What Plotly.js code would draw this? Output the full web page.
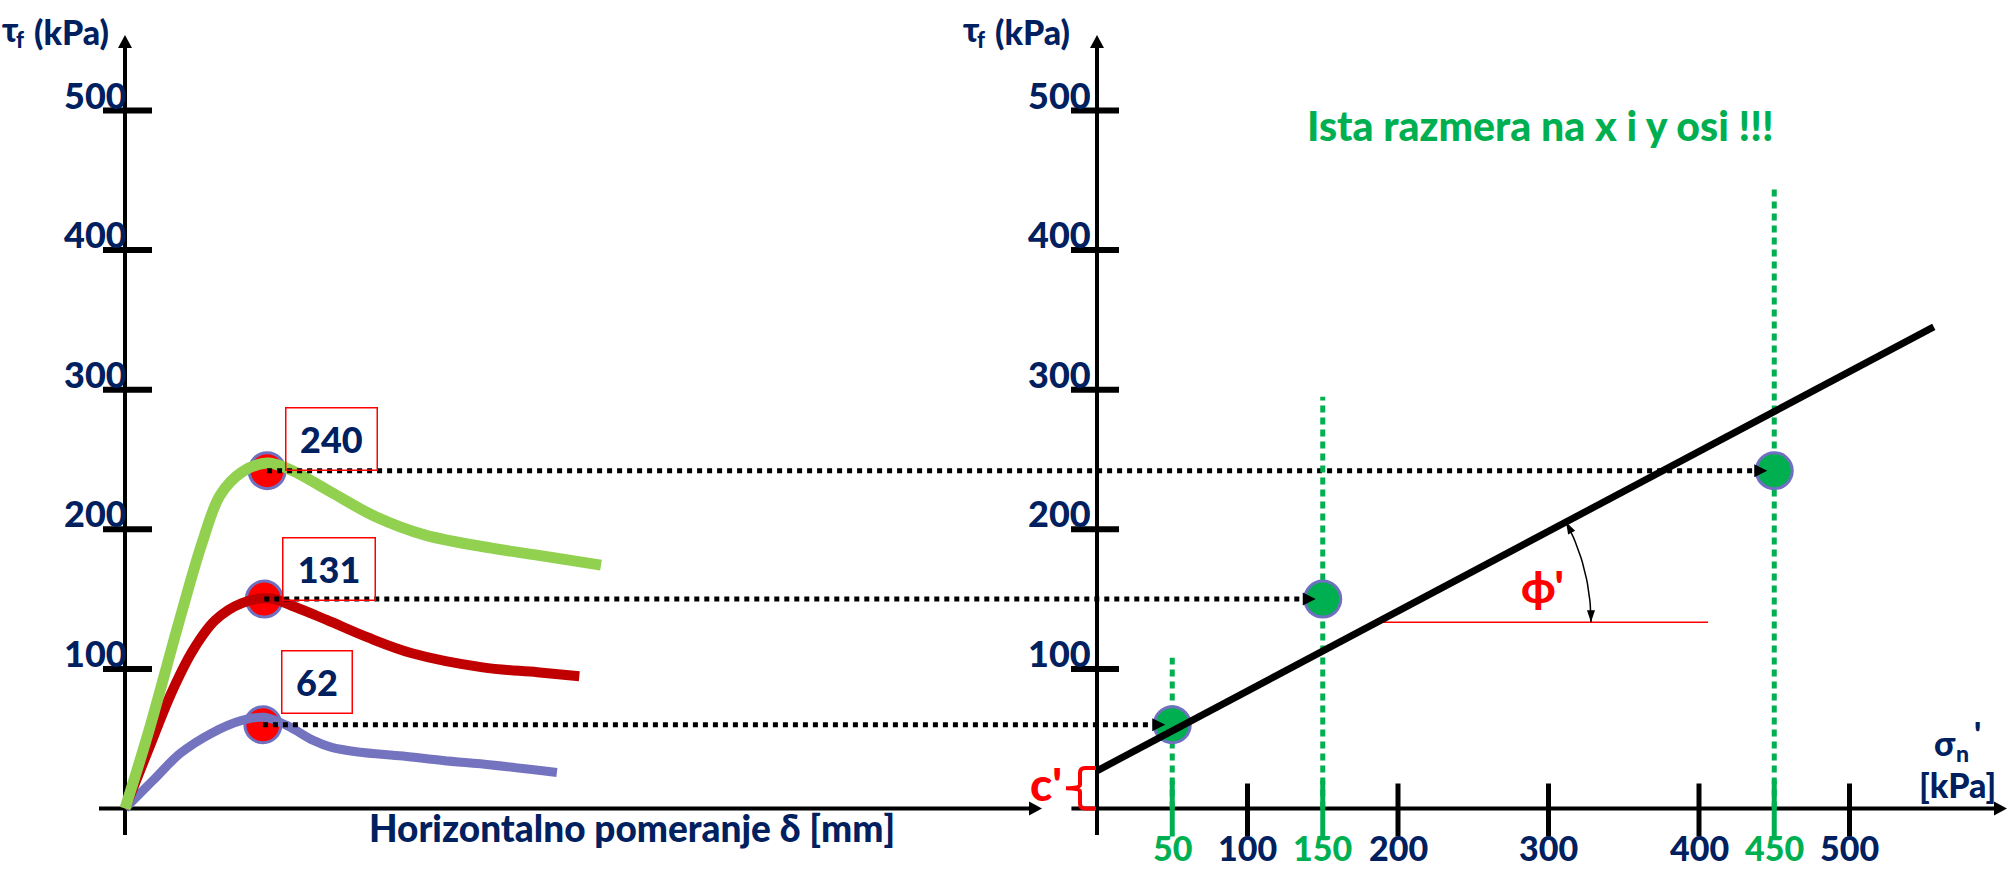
<!DOCTYPE html>
<html><head><meta charset="utf-8">
<script src="https://cdn.plot.ly/plotly-3.0.1.min.js"></script>
<style>html,body{margin:0;padding:0;background:#fff;overflow:hidden}#chart{width:2007px;height:872px}</style>
</head><body><div id="chart"></div>
<script>
// ---------------- data ----------------
// Left panel: shear stress vs horizontal displacement (three tests)
const deltaBlue  = [0, 0.40, 0.79, 1.23, 1.67, 1.99, 2.31, 2.69, 2.94, 3.33, 3.97, 4.54, 5.24, 6.17];
const tauBlue    = [0, 20.1, 39.5, 53.8, 63.1, 65.3, 59.5, 48.8, 44.0, 40.5, 37.6, 34.4, 31.2, 25.8];
const deltaRed   = [0, 0.33, 0.66, 0.97, 1.29, 1.67, 2.06, 2.44, 2.89, 3.46, 4.10, 5.11, 5.89, 6.49];
const tauRed     = [0, 41.6, 82.5, 113.3, 134.9, 147.1, 150.6, 144.2, 134.9, 122.7, 111.2, 101.1, 97.6, 94.7];
const deltaGreen = [0, 0.33, 0.79, 1.10, 1.36, 1.67, 2.03, 2.37, 2.94, 3.59, 4.29, 5.24, 5.89, 6.80];
const tauGreen   = [0, 53.8, 137, 190, 224.5, 241, 247.5, 242.5, 226.7, 208.8, 195.8, 186.5, 181.5, 174.3];

// Peaks (order: 240, 131, 62)
const peakDelta  = [2.03, 1.99, 1.97];
const peakTau    = [242, 150, 60];
const peakLabels = ['240', '131', '62'];
const sigmaTested = [450, 150, 50];
const guideTop    = [445, 295, 108];

// Right panel: failure envelope
const envSigma = [0, 556];
const envTau   = [27, 345];
const phiRefTau = 133.4;
const phiRefEnd = 406;

// Ticks
const tauTicks = [100, 200, 300, 400, 500];
const sigmaTicks = [50, 100, 150, 200, 300, 400, 450, 500];
const sigmaTickLabels = ['50', '100', '150', '200', '300', '400', '450', '500'];

// ---------------- layout constants ----------------
const W = 2007, H = 872;
const LX0 = 125, LSX = 70;      // left x: origin px, px per mm
const RX0 = 1097, RSX = 1.505;  // right x: origin px, px per kPa
const Y0 = 808.5, SY = 1.396;   // y: origin px, px per kPa
const NAVY = '#002060', GTXT = '#00B050', RED = '#FF0000', PURP = '#7070C0';
const FONT = 'Lato, "Noto Sans", "DejaVu Sans", sans-serif';
const F = (size, color) => ({family: FONT, size: size, color: color || NAVY, weight: 900});
const toX2 = mm => (LX0 + mm * LSX - RX0) / RSX;

const traces = [];
for (let i = 0; i < 3; i++) {
  traces.push({x: [toX2(peakDelta[i]), sigmaTested[i]], y: [peakTau[i], peakTau[i]], xaxis: 'x2', yaxis: 'y',
    mode: 'lines', line: {color: '#000', width: 5, dash: '5px,5px'}, hoverinfo: 'skip'});
}
for (let i = 0; i < 3; i++) {
  traces.push({x: [sigmaTested[i], sigmaTested[i]], y: [0, guideTop[i]], xaxis: 'x2', yaxis: 'y',
    mode: 'lines', line: {color: '#00B050', width: 5, dash: '7px,5px'}, hoverinfo: 'skip'});
}
traces.push({x: peakDelta, y: peakTau, xaxis: 'x', yaxis: 'y', mode: 'markers',
  marker: {size: 36, color: RED, line: {color: PURP, width: 3}}, hoverinfo: 'skip'});
traces.push({x: deltaBlue, y: tauBlue, mode: 'lines', line: {color: '#7373BF', width: 9, shape: 'spline'}, hoverinfo: 'skip'});
traces.push({x: deltaRed, y: tauRed, mode: 'lines', line: {color: '#C00000', width: 10, shape: 'spline'}, hoverinfo: 'skip'});
traces.push({x: deltaGreen, y: tauGreen, mode: 'lines', line: {color: '#92D050', width: 11, shape: 'spline'}, hoverinfo: 'skip'});
traces.push({x: sigmaTested, y: peakTau, xaxis: 'x2', yaxis: 'y', mode: 'markers',
  marker: {size: 36, color: '#00B050', line: {color: PURP, width: 3}}, hoverinfo: 'skip'});
traces.push({x: envSigma, y: envTau, xaxis: 'x2', yaxis: 'y', mode: 'lines', line: {color: '#000', width: 7}, hoverinfo: 'skip'});
const slope = (envTau[1] - envTau[0]) / (envSigma[1] - envSigma[0]);
const cx = (phiRefTau - envTau[0]) / slope, cy = phiRefTau;
const thetaE = Math.atan(slope * SY / RSX);
const R = 214;
const arcX = [], arcY = [];
for (let k = 0; k <= 24; k++) {
  const t = thetaE * k / 24;
  arcX.push(cx + R * Math.cos(t) / RSX);
  arcY.push(cy + R * Math.sin(t) / SY);
}
traces.push({x: arcX, y: arcY, xaxis: 'x2', yaxis: 'y', mode: 'lines', line: {color: '#000', width: 1.5}, hoverinfo: 'skip'});

// ---------------- shapes ----------------
const shapes = [];
const line = (o) => Object.assign({type: 'line', layer: 'below'}, o);
const tri = (xref, x, y, dx, dy, L, w, off) => {
  off = off || 0;
  const tx = dx * off, ty = dy * off;
  const bx = tx - dx * L, by = ty - dy * L;
  const nx = -dy * w / 2, ny = dx * w / 2;
  const f = v => v.toFixed(2);
  return {type: 'path', xref: xref, yref: 'y', xsizemode: 'pixel', ysizemode: 'pixel', xanchor: x, yanchor: y,
    path: `M ${f(tx)},${f(ty)} L ${f(bx + nx)},${f(by + ny)} L ${f(bx - nx)},${f(by - ny)} Z`,
    fillcolor: '#000', line: {width: 0}, layer: 'above'};
};
shapes.push(line({xref: 'x', yref: 'y', x0: 0, x1: 0, y0: -19, y1: 545, line: {color: '#000', width: 4}}));
shapes.push(line({xref: 'x', yref: 'y', x0: (99 - LX0) / LSX, x1: (1036 - LX0) / LSX, y0: 0, y1: 0, line: {color: '#000', width: 4}}));
shapes.push(line({xref: 'x2', yref: 'y', x0: 0, x1: 0, y0: -19, y1: 545, line: {color: '#000', width: 4}}));
shapes.push(line({xref: 'x2', yref: 'y', x0: -17, x1: 598, y0: 0, y1: 0, line: {color: '#000', width: 4}}));
tauTicks.forEach(v => {
  shapes.push(line({xref: 'x', yref: 'y', xsizemode: 'pixel', xanchor: 0, x0: -22, x1: 27, y0: v, y1: v, line: {color: '#000', width: 6}}));
  shapes.push(line({xref: 'x2', yref: 'y', xsizemode: 'pixel', xanchor: 0, x0: -26, x1: 22, y0: v, y1: v, line: {color: '#000', width: 6}}));
});
sigmaTicks.forEach(s => {
  const tested = sigmaTested.includes(s);
  shapes.push(line({xref: 'x2', yref: 'y', ysizemode: 'pixel', yanchor: 0, x0: s, x1: s,
    y0: -28, y1: tested ? 28 : 25, line: {color: tested ? '#00B050' : '#000', width: 5}}));
});
shapes.push(tri('x', 0, (Y0 - 35) / SY, 0, 1, 13, 14));
shapes.push(tri('x2', 0, (Y0 - 35) / SY, 0, 1, 13, 14));
shapes.push(tri('x', (1042 - LX0) / LSX, 0, 1, 0, 13, 14));
shapes.push(tri('x2', (2007 - RX0) / RSX, 0, 1, 0, 13, 14));
for (let i = 0; i < 3; i++) shapes.push(tri('x2', sigmaTested[i], peakTau[i], 1, 0, 13, 13, -7));
shapes.push(tri('x2', arcX[arcX.length - 1], arcY[arcY.length - 1], -Math.sin(thetaE), Math.cos(thetaE), 12, 8));
shapes.push(tri('x2', arcX[0], arcY[0], 0, -1, 12, 8));
const braceTop = envTau[0] + 2, braceMid = braceTop / 2;
shapes.push({type: 'path', xref: 'x2', yref: 'y', xsizemode: 'pixel', xanchor: 0, layer: 'above',
  path: `M -1,${braceTop} L -12,${braceTop} Q -17,${braceTop} -17,${braceTop - 3.5} L -17,${braceMid + 2.5} Q -17,${braceMid} -31,${braceMid} Q -17,${braceMid} -17,${braceMid - 2.5} L -17,3.5 Q -17,0 -12,0 L -1,0`,
  line: {color: RED, width: 4}});
shapes.push(line({xref: 'x2', yref: 'y', x0: cx, x1: phiRefEnd, y0: phiRefTau, y1: phiRefTau, line: {color: RED, width: 1.5}}));

// ---------------- annotations ----------------
const ann = [];
const txt = (o) => Object.assign({showarrow: false, font: F(36)}, o);
const P = (px, py, text, font, xa) => txt({xref: 'paper', yref: 'paper', x: px / W, y: 1 - py / H,
  xanchor: xa || 'center', yanchor: 'middle', text: text, font: font});
tauTicks.forEach(v => {
  ann.push(txt({xref: 'x', yref: 'y', x: 0, y: v, xanchor: 'right', yanchor: 'middle', xshift: 4, yshift: 16, text: String(v)}));
  ann.push(txt({xref: 'x2', yref: 'y', x: 0, y: v, xanchor: 'right', yanchor: 'middle', xshift: -4, yshift: 16, text: String(v)}));
});
sigmaTicks.forEach((s, i) => {
  const tested = sigmaTested.includes(s);
  ann.push(txt({xref: 'x2', yref: 'y', x: s, y: 0, xanchor: 'center', yanchor: 'bottom', yshift: -(H - Y0) + 2,
    text: sigmaTickLabels[i], font: F(34, tested ? GTXT : NAVY)}));
});
const boxW = [90, 91, 69], boxShift = [0, -2, 11];
for (let i = 0; i < 3; i++) {
  ann.push(txt({xref: 'x', yref: 'y', x: peakDelta[i], y: peakTau[i], xanchor: 'left', yanchor: 'bottom',
    xshift: 18, yshift: boxShift[i], width: boxW[i], height: 61, borderpad: 0, bordercolor: RED, borderwidth: 1.5,
    align: 'center', valign: 'middle', text: peakLabels[i]}));
}
[2, 963].forEach(x0 => {
  ann.push(P(x0 + 8, 29, 'τ', F(34)));
  ann.push(P(x0 + 18, 40, 'f', F(22)));
  ann.push(P(x0 + 30, 31, '(kPa)', F(34), 'left'));
});
ann.push(P(632, 827, 'Horizontalno pomeranje δ [mm]', F(37)));
ann.push(P(1540, 125, 'Ista razmera na x i y osi !!!', F(41, GTXT)));
ann.push(P(1945, 742, 'σ', F(34)));
ann.push(P(1962, 753, 'n', F(23)));
ann.push(P(1977, 733, "'", F(34)));
ann.push(P(1957, 784, '[kPa]', F(34)));
ann.push(txt({xref: 'x2', yref: 'y', x: 0, y: envTau[0] / 2, xanchor: 'center', yanchor: 'middle', xshift: -51, yshift: 6,
  text: "c'", font: F(46, RED)}));
ann.push(txt({xref: 'x2', yref: 'y', x: cx, y: cy, xanchor: 'center', yanchor: 'middle', xshift: 166, yshift: 36,
  text: "ϕ'", font: F(44, RED)}));

const layout = {
  width: W, height: H, margin: {l: 0, r: 0, t: 0, b: 0},
  paper_bgcolor: '#fff', plot_bgcolor: 'rgba(0,0,0,0)', showlegend: false, hovermode: false,
  xaxis: {domain: [0, 1], range: [-LX0 / LSX, (W - LX0) / LSX], visible: false, fixedrange: true},
  xaxis2: {domain: [0, 1], range: [-RX0 / RSX, (W - RX0) / RSX], visible: false, overlaying: 'x', anchor: 'y', fixedrange: true},
  yaxis: {domain: [0, 1], range: [-(H - Y0) / SY, Y0 / SY], visible: false, fixedrange: true},
  shapes: shapes, annotations: ann
};
Plotly.newPlot('chart', traces, layout, {displayModeBar: false, staticPlot: true});
</script></body></html>
